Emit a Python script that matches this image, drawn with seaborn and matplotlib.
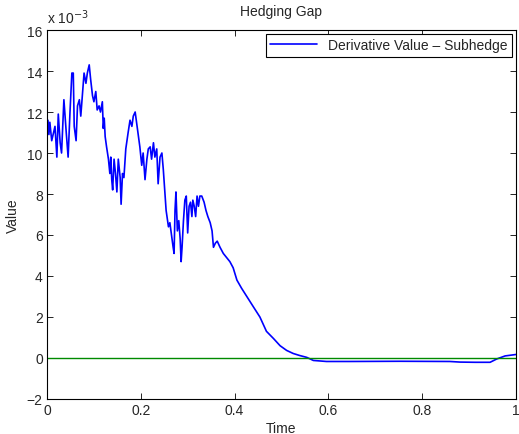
import numpy as np
import pandas as pd
import matplotlib
matplotlib.use("Agg")
import matplotlib.pyplot as plt
import seaborn as sns

# values (value axis in units of 1e-3)
time = [
    0.000, 0.002, 0.004, 0.006, 0.010, 0.017, 0.021, 0.024, 0.028, 0.031,
    0.036, 0.041, 0.045, 0.049, 0.053, 0.056, 0.058, 0.062, 0.065, 0.069,
    0.072, 0.076, 0.079, 0.083, 0.086, 0.090, 0.093, 0.097, 0.100, 0.104,
    0.107, 0.111, 0.114, 0.118, 0.120, 0.122, 0.124, 0.127, 0.131, 0.134,
    0.136, 0.138, 0.140, 0.143, 0.146, 0.149, 0.152, 0.156, 0.158, 0.161,
    0.164, 0.168, 0.173, 0.177, 0.181, 0.184, 0.188, 0.191, 0.195, 0.198,
    0.202, 0.205, 0.209, 0.213, 0.216, 0.220, 0.223, 0.227, 0.230, 0.234,
    0.237, 0.241, 0.245, 0.248, 0.251, 0.254, 0.257, 0.259, 0.262, 0.266,
    0.269, 0.271, 0.273, 0.275, 0.278, 0.281, 0.284, 0.286, 0.288, 0.291,
    0.294, 0.297, 0.300, 0.303, 0.306, 0.309, 0.311, 0.314, 0.317, 0.320,
    0.323, 0.326, 0.330, 0.335, 0.339, 0.343, 0.348, 0.352, 0.355, 0.359,
    0.363, 0.369, 0.376, 0.383, 0.390, 0.397, 0.405, 0.415, 0.426, 0.440,
    0.454, 0.468, 0.483, 0.497, 0.511, 0.525, 0.539, 0.554, 0.568, 0.596,
    0.646, 0.753, 0.859, 0.881, 0.913, 0.945, 0.959, 0.977, 1.000,
]
gap = [
    11.0, 11.6, 10.9, 11.5, 10.6, 11.3, 9.8, 11.9, 10.5, 10.0,
    12.6, 11.0, 9.8, 12.0, 13.9, 13.9, 11.3, 10.6, 12.3, 12.6,
    11.8, 13.0, 13.9, 13.4, 13.9, 14.3, 13.6, 12.8, 12.5, 13.0,
    12.1, 12.3, 12.0, 12.5, 11.2, 11.7, 10.8, 10.3, 9.7, 9.0,
    9.8, 8.7, 8.2, 9.7, 9.0, 8.1, 9.7, 8.8, 7.5, 9.0,
    8.8, 10.2, 11.0, 11.6, 11.3, 11.8, 12.0, 11.5, 10.8, 10.3,
    9.4, 10.0, 8.7, 9.7, 10.2, 10.3, 9.7, 10.5, 9.8, 10.2,
    8.5, 9.8, 10.0, 9.2, 8.2, 7.2, 6.7, 6.4, 6.6, 5.9,
    5.4, 5.1, 7.2, 8.1, 6.2, 6.7, 5.8, 4.7, 5.4, 6.7,
    7.7, 7.9, 6.1, 7.4, 7.6, 6.9, 7.7, 7.4, 6.9, 7.9,
    7.4, 7.9, 7.9, 7.6, 7.2, 6.9, 6.6, 6.2, 5.4, 5.6,
    5.7, 5.4, 5.1, 4.9, 4.7, 4.4, 3.8, 3.4, 3.0, 2.5,
    2.0, 1.3, 0.95, 0.6, 0.37, 0.22, 0.12, 0.03, -0.12, -0.17,
    -0.17, -0.16, -0.17, -0.20, -0.21, -0.21, -0.05, 0.10, 0.17,
]
zero_time = [0.0, 1.0]
zero_line = [0.0, 0.0]

df = pd.DataFrame({"Time": time, "Value": gap})

sns.set_style("ticks")
plt.rcParams["font.family"] = ["Liberation Sans", "DejaVu Sans"]
plt.rcParams["xtick.direction"] = "in"
plt.rcParams["ytick.direction"] = "in"

fig = plt.figure(figsize=(5.19, 4.35), dpi=100)
ax = fig.add_axes([0.0906, 0.0805, 0.9034, 0.8482])

sns.lineplot(data=df, x="Time", y="Value", estimator=None, sort=False,
             color="#0000ff", linewidth=1.2, ax=ax,
             label="Derivative Value \u2013 Subhedge")
ax.plot(zero_time, zero_line, color="#008a00", linewidth=1.0)

ax.set_xlim(0, 1)
ax.set_ylim(-2, 16)
ax.set_xticks([0, 0.2, 0.4, 0.6, 0.8, 1])
ax.set_xticklabels(["0", "0.2", "0.4", "0.6", "0.8", "1"])
ax.set_yticks(range(-2, 17, 2))
ax.set_yticklabels(["\u22122"] + [str(v) for v in range(0, 17, 2)])
ax.tick_params(which="both", top=True, right=True, labelsize=10,
               length=4, width=0.6, color="black", pad=3)
for s in ax.spines.values():
    s.set_visible(True)
    s.set_linewidth(0.8)
    s.set_color("black")

ax.set_title("Hedging Gap", fontsize=10, pad=11)
ax.set_xlabel("Time", fontsize=10, labelpad=3)
ax.set_ylabel("Value", fontsize=10, labelpad=5)
ax.text(0.0, 1.012, "x 10$^{-3}$", transform=ax.transAxes, fontsize=10,
        ha="left", va="bottom")

leg = ax.legend(loc="upper right", fontsize=10, fancybox=False,
                edgecolor="black", framealpha=1, borderpad=0.3,
                handlelength=3.4, borderaxespad=0.3)
leg.get_frame().set_linewidth(0.8)

plt.savefig("out.png", dpi=100)
